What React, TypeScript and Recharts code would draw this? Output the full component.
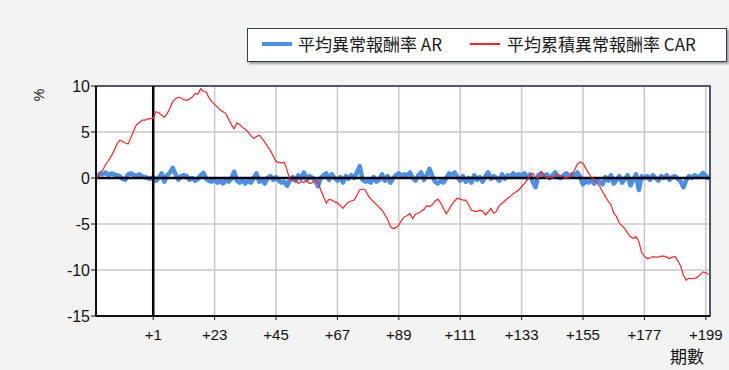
import React from "react";
import { LineChart, Line, XAxis, YAxis, CartesianGrid, ReferenceLine, ReferenceArea, Legend } from "recharts";

// Periods: -20 .. -1, then +1 .. +200
const periods: string[] = [];
for (let k = -20; k <= 200; k++) {
  if (k === 0) continue;
  periods.push(k > 0 ? "+" + k : String(k));
}

const tickLabels = ["+1", "+23", "+45", "+67", "+89", "+111", "+133", "+155", "+177", "+199"];
const yTicks = [-15, -10, -5, 0, 5, 10];

// 平均異常報酬率 AR (%)
const arValues = [
  0.2, 0.5, 0.4, 0.6, 0.3, 0.5, 0.4, 0.3, 0.2, -0.1,
  -0.2, 0.4, 0.5, 0.3, 0.2, 0.4, 0.2, 0.1, 0.0, -0.1,
  0.1, -0.3, 0.0, 0.5, -0.4, 0.3, 0.6, 1.1, 0.4, -0.2,
  0.2, 0.3, 0.2, -0.2, 0.0, -0.3, -0.1, 0.3, 0.55, -0.1,
  -0.3, -0.4, -0.2, -0.5, -0.3, -0.6, -0.2, -0.4, -0.1, 0.7,
  -0.3, -0.5, -0.2, -0.6, -0.3, -0.5, 0.0, 0.5, -0.4, -0.2,
  -0.6, 0.0, 0.2, -0.2, 0.1, -0.3, -0.5, -0.4, -0.85, -0.2,
  0.1, -0.3, 0.3, -0.1, 0.6, -0.2, 0.2, 0.0, -0.2, -0.9,
  0.0, 0.3, 0.5, -0.2, 0.4, 0.0, -0.3, 0.1, -0.5, 0.2,
  -0.1, 0.3, 0.0, 0.6, 1.3, -0.2, -0.4, -0.3, -0.5, 0.1,
  -0.4, -0.2, 0.4, -0.3, 0.2, -0.5, 0.0, 0.3, 0.5, 0.2,
  0.4, 0.3, 0.6, 0.0, -0.3, 0.3, 0.6, -0.2, 0.3, 1.0,
  0.2, -0.4, -0.6, -0.3, -0.5, 0.0, 0.5, 0.3, 0.6, 0.1,
  -0.3, 0.2, -0.4, 0.0, -0.5, 0.3, -0.2, 0.1, -0.4, 0.2,
  0.6, -0.1, 0.2, 0.0, -0.3, 0.4, -0.1, 0.3, 0.1, 0.5,
  0.2, 0.4, 0.3, 0.5, 0.0, 0.4, -0.4, -1.0, 0.3, 0.5,
  0.2, 0.4, 0.0, 0.3, 0.6, 0.1, 0.0, 0.3, 0.5, 0.2,
  0.4, 0.3, 0.6, 0.1, -0.7, -0.3, -0.5, -0.2, -0.6, -0.3,
  -0.4, -0.7, 0.1, -0.3, 0.3, -0.6, -0.2, 0.2, -0.5, -0.1,
  0.3, -0.8, -0.2, 0.4, -1.3, 0.2, 0.0, 0.2, -0.2, 0.3,
  0.0, -0.3, 0.2, 0.0, 0.3, -0.2, 0.1, 0.2, -0.1, -0.4,
  -1.0, -0.2, 0.2, 0.0, 0.3, 0.1, 0.2, 0.55, 0.2, 0.0,
];

// 平均累積異常報酬率 CAR (%)
const carValues = [
  0.0, 0.5, 0.9, 1.5, 1.9, 2.4, 3.0, 3.7, 4.1, 4.0,
  3.8, 3.7, 4.4, 5.1, 5.8, 6.0, 6.3, 6.3, 6.4, 6.45,
  6.5, 7.2, 7.1, 6.8, 6.6, 7.0, 7.6, 8.3, 8.6, 8.8,
  8.7, 8.5, 8.45, 8.6, 8.8, 9.2, 9.1, 9.7, 9.4, 9.35,
  8.7, 8.3, 8.0, 7.7, 7.4, 7.2, 7.0, 6.4, 5.8, 5.35,
  6.0, 5.8, 5.5, 5.3, 5.0, 4.6, 4.3, 4.5, 4.65, 4.3,
  3.9, 3.4, 3.0, 2.4, 1.8, 1.7, 1.65, 1.7, 0.8, -0.2,
  -0.3, -0.2, -0.6, -0.4, -0.5, -0.3, -0.6, -0.5, -0.3, -0.4,
  -1.3, -2.0, -2.75, -2.3, -2.4, -2.6, -2.7, -3.0, -3.3, -2.9,
  -2.6, -2.5, -2.4, -1.85, -1.3, -1.2, -1.3, -1.9, -2.3, -2.6,
  -2.9, -3.2, -3.5, -4.0, -4.5, -5.3, -5.5, -5.4, -5.1, -4.6,
  -4.2, -4.1, -3.85, -4.4, -3.9, -3.8, -3.65, -3.4, -3.0, -3.1,
  -2.9, -2.5, -2.3, -2.7, -3.3, -3.9, -3.4, -2.9, -2.5, -2.2,
  -2.3, -2.4, -2.4, -2.9, -3.5, -3.6, -3.65, -3.5, -3.6, -4.0,
  -3.7, -3.3, -3.85, -3.6, -3.0, -2.75, -2.5, -2.2, -2.0, -1.7,
  -1.5, -1.3, -0.95, -0.6, -0.2, 0.3, 0.5, 0.1, 0.0, 0.7,
  0.3, 0.0, 0.1, 0.0, 0.3, 0.45, 0.2, 0.15, 0.0, 0.1,
  0.3, 0.9, 1.5, 1.75, 1.6, 1.05, 0.5, 0.1, -0.3, -0.5,
  -0.9, -1.5, -2.0, -2.5, -2.9, -3.8, -4.2, -4.9, -5.2, -5.5,
  -6.0, -6.4, -6.55, -6.4, -6.9, -8.1, -8.5, -8.75, -8.7, -8.55,
  -8.6, -8.6, -8.5, -8.5, -8.6, -8.75, -8.6, -8.55, -9.0, -9.6,
  -10.6, -11.1, -10.9, -10.95, -10.9, -10.8, -10.5, -10.2, -10.3, -10.5,
];

const data = periods.map((p, i) => ({ i, period: p, ar: arValues[i], car: carValues[i] }));
const xTicks = tickLabels.map((t) => periods.indexOf(t));
const eventIndex = periods.indexOf("+1");

const AR_COLOR = "#4a8fea";
const CAR_COLOR = "#ff2424";
const TICK_FONT = "'Liberation Sans', Arial, sans-serif";
const CJK_FONT = "'Noto Sans CJK TC', 'Noto Sans CJK SC', sans-serif";

const LegendBox = () => (
  <div
    style={{
      position: "relative",
      width: 480,
      height: 34,
      boxSizing: "border-box",
      border: "1.5px solid #2c3d5c",
      background: "#ffffff",
      boxShadow: "2px 2px 2px rgba(0,0,0,0.35)",
      fontFamily: CJK_FONT,
      fontSize: 17,
      color: "#1a1a1a",
    }}
  >
    <div style={{ position: "absolute", left: 14, top: 13, width: 30, height: 4, background: AR_COLOR }} />
    <div style={{ position: "absolute", left: 50, top: 4, lineHeight: "22px", whiteSpace: "nowrap" }}>平均異常報酬率 AR</div>
    <div style={{ position: "absolute", left: 222, top: 14, width: 30, height: 2, background: CAR_COLOR }} />
    <div style={{ position: "absolute", left: 259, top: 4, lineHeight: "22px", whiteSpace: "nowrap" }}>平均累積異常報酬率 CAR</div>
  </div>
);

export default function App() {
  return (
    <div style={{ position: "absolute", left: 0, top: 0, width: 729, height: 370, background: "#f3f3f3", overflow: "hidden" }}>
      <LineChart width={729} height={370} data={data} margin={{ top: 86, right: 19, left: 0, bottom: 0 }}>
        <CartesianGrid stroke="#c8c8c8" strokeWidth={1.5} fill="#ffffff" />
        <XAxis
          dataKey="i"
          type="number"
          domain={[-0.5, 219.5]}
          allowDataOverflow
          ticks={xTicks}
          interval={0}
          tickFormatter={(v: number) => periods[v] ?? ""}
          height={54}
          tickSize={4}
          tickMargin={9}
          axisLine={{ stroke: "#111", strokeWidth: 2 }}
          tickLine={{ stroke: "#111" }}
          tick={{ fill: "#111", fontSize: 15, fontFamily: TICK_FONT }}
        />
        <YAxis
          type="number"
          domain={[-15, 10]}
          ticks={yTicks}
          interval={0}
          width={96}
          tickSize={5}
          tickMargin={1}
          axisLine={{ stroke: "#111", strokeWidth: 2 }}
          tickLine={{ stroke: "#111" }}
          tick={{ fill: "#111", fontSize: 16, fontFamily: TICK_FONT }}
        />
        <Line
          type="linear"
          dataKey="ar"
          stroke={AR_COLOR}
          strokeWidth={4.5}
          strokeLinejoin="round"
          strokeLinecap="round"
          dot={false}
          activeDot={false}
          isAnimationActive={false}
        />
        <ReferenceLine y={0} stroke="#000" strokeWidth={2.5} />
        <ReferenceLine x={eventIndex} stroke="#000" strokeWidth={2.5} />
        <Line type="linear" dataKey="car" stroke={CAR_COLOR} strokeWidth={1.2} dot={false} activeDot={false} isAnimationActive={false} />
        <ReferenceArea x1={-0.5} x2={219.5} y1={-15} y2={10} fill="none" stroke="#22314d" strokeWidth={1.5} ifOverflow="extendDomain" />
        <Legend
          layout="horizontal"
          verticalAlign="middle"
          align="center"
          content={() => <LegendBox />}
          wrapperStyle={{ left: 247, top: 28, width: 482, height: 36 }}
        />
      </LineChart>
      <div
        style={{
          position: "absolute",
          left: 33,
          top: 88,
          fontFamily: TICK_FONT,
          fontSize: 14,
          color: "#111",
          transform: "rotate(-90deg)",
          lineHeight: "14px",
        }}
      >
        %
      </div>
      <div style={{ position: "absolute", left: 670, top: 346, fontFamily: CJK_FONT, fontSize: 17, color: "#111", lineHeight: "20px" }}>
        期數
      </div>
    </div>
  );
}
